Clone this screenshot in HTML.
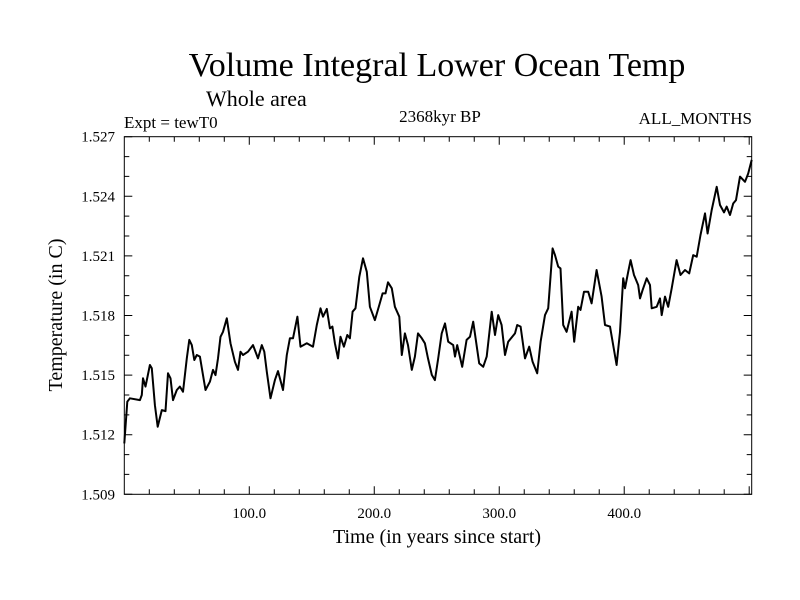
<!DOCTYPE html>
<html><head><meta charset="utf-8"><style>
body{margin:0;background:#fff}
svg{display:block;font-family:"Liberation Serif",serif}
</style></head><body>
<svg id="chart" width="800" height="600">
<text x="437" y="76" font-size="34" text-anchor="middle">Volume Integral Lower Ocean Temp</text>
<text x="206" y="106" font-size="22">Whole area</text>
<text x="124" y="128" font-size="17">Expt = tewT0</text>
<text x="440" y="122" font-size="17" text-anchor="middle">2368kyr BP</text>
<text x="752" y="124" font-size="17" text-anchor="end">ALL_MONTHS</text>
<text x="437" y="543" font-size="20" text-anchor="middle">Time (in years since start)</text>
<text transform="translate(62,315) rotate(-90)" font-size="20" text-anchor="middle">Temperature (in C)</text>
<g id="axes"></g>
<path id="line" fill="none" stroke="#000" stroke-width="2" stroke-linejoin="round"/>
</svg>
<script>
const years=[0,2.4,4.5,12.5,14,15,17,20.5,22,24.5,26.7,30,33,35,37,39,42,44.5,47,50,52,54,56,58,60.5,65,68.5,71,73,75,77,79,82,85,88.5,91,93,95,99,103,107,110,112,114,117,120.5,123,127,130,132.5,135,138.5,141,146,151,154,157,159,162,164.5,166.5,168.5,171,173,175.7,178.4,180.5,182.7,185,188,191,194,196.5,200.5,204,206.7,209,211,214,216.5,220,222,224.5,227,230,232.5,235,238,240.5,243,246,248.5,251.2,254,256.6,259.2,263.2,264.6,266.4,270.4,273.9,276.6,279.2,284,287.2,290,294,296.6,299.2,301.9,304.6,307.2,312.6,314.4,317.1,320.6,324,326.7,330.4,333.1,336.6,339.2,342.7,344.6,347.2,349,351.2,353.9,357.9,360,363.2,365,367.8,371.2,373.9,377.9,381.9,384.6,388.6,393.9,396.6,399.2,400.6,403.2,405.1,407.8,411.2,412.6,414.7,418,420.6,422,426,428.6,430,432.6,435.2,438,441.9,445,448.6,452,455.2,458,461,464.6,466.7,470,474,476.6,479.8,482,484.6,487.2,489.4,492.6,496.6,499.2,502];
const temps=[1.51156,1.51366,1.51383,1.51374,1.5140,1.51484,1.51442,1.51551,1.51534,1.51349,1.5124,1.51324,1.51319,1.51509,1.51484,1.51374,1.51425,1.51442,1.51416,1.51584,1.51677,1.51651,1.51576,1.51601,1.51593,1.51425,1.51467,1.51526,1.5150,1.51584,1.51693,1.51718,1.51786,1.5166,1.51567,1.51526,1.51618,1.51601,1.51618,1.51651,1.51584,1.51651,1.51618,1.51517,1.51383,1.51475,1.5152,1.51425,1.51601,1.51685,1.51685,1.51794,1.51643,1.5166,1.51643,1.51752,1.51836,1.51794,1.51833,1.51735,1.51744,1.5166,1.51584,1.51693,1.51643,1.51702,1.51685,1.51819,1.51836,1.51995,1.52088,1.5202,1.51844,1.51777,1.51853,1.51911,1.51911,1.51967,1.51937,1.51844,1.51794,1.51601,1.5171,1.51651,1.51526,1.51593,1.5171,1.51685,1.5166,1.51584,1.51501,1.51475,1.51584,1.5171,1.5176,1.51668,1.51651,1.51593,1.51651,1.51542,1.51677,1.51693,1.51769,1.51559,1.51542,1.51593,1.51819,1.51702,1.51802,1.51752,1.51601,1.51668,1.5171,1.51752,1.51744,1.51584,1.51643,1.51567,1.51509,1.51668,1.51802,1.51836,1.52138,1.52104,1.52046,1.52037,1.51752,1.51718,1.51819,1.51668,1.51844,1.51828,1.5192,1.5192,1.51861,1.52029,1.51895,1.51752,1.51744,1.51551,1.51718,1.51987,1.51937,1.5202,1.52079,1.52004,1.51953,1.51886,1.51928,1.51987,1.51953,1.51836,1.51844,1.51886,1.51802,1.51895,1.51844,1.51937,1.52079,1.52004,1.52029,1.52012,1.52104,1.52096,1.52205,1.52314,1.52213,1.52331,1.52448,1.52356,1.52319,1.52348,1.52306,1.52364,1.52381,1.52499,1.52473,1.52515,1.52583];
const yTickLabels=["1.509","1.512","1.515","1.518","1.521","1.524","1.527"];
const xTickLabels=["100.0","200.0","300.0","400.0"];
const X0=124.3,X1=751.7,Y0=494.3,Y1=136.7,XMIN=0,XMAX=502,YMIN=1.509,YMAX=1.527;
const sx=v=>X0+(v-XMIN)/(XMAX-XMIN)*(X1-X0);
const sy=v=>Y0-(v-YMIN)/(YMAX-YMIN)*(Y0-Y1);
const NS="http://www.w3.org/2000/svg";
const axes=document.getElementById('axes');
function mk(tag,attrs,parent){const e=document.createElementNS(NS,tag);for(const k in attrs)e.setAttribute(k,attrs[k]);(parent||axes).appendChild(e);return e;}
const frame=mk('rect',{x:X0,y:Y1,width:X1-X0,height:Y0-Y1,fill:'none',stroke:'#000','stroke-width':1});


for(let i=0;i<=18;i++){const v=YMIN+i*0.001,y=sy(v),L=i%3===0?8:5;
 const t=mk('path',{d:`M${X0},${y}h${L}M${X1},${y}h${-L}`,stroke:'#000','stroke-width':1});
 
 }
yTickLabels.forEach(s=>{const t=mk('text',{x:115,y:sy(parseFloat(s))+5,'font-size':15,'text-anchor':'end'});t.textContent=s;
 
 });
for(let v=20;v<XMAX;v+=20){const x=sx(v),L=v%100===0?8:5;
 const t=mk('path',{d:`M${x},${Y0}v${-L}M${x},${Y1}v${L}`,stroke:'#000','stroke-width':1});
 
 }
xTickLabels.forEach(s=>{const t=mk('text',{x:sx(parseFloat(s)),y:518,'font-size':15,'text-anchor':'middle'});t.textContent=s;
 
 });
document.getElementById('line').setAttribute('d',years.map((yr,i)=>(i?'L':'M')+sx(yr).toFixed(1)+','+sy(temps[i]).toFixed(1)).join(''));
</script>
</body></html>
